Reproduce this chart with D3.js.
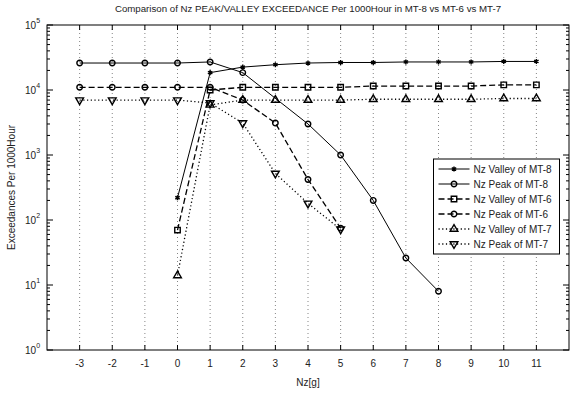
<!DOCTYPE html>
<html>
<head>
<meta charset="utf-8">
<script src="https://cdn.jsdelivr.net/npm/d3@7"></script>
<style>
  body { margin: 0; background: #fff; }
  text { font-family: "Liberation Sans", Arial, sans-serif; fill: #222; }
</style>
</head>
<body>
<div id="chart"></div>
<script>
// Nz[g] levels and exceedances per 1000 hours
var xTicks = [-3, -2, -1, 0, 1, 2, 3, 4, 5, 6, 7, 8, 9, 10, 11];
var yTicks = [1, 10, 100, 1000, 10000, 100000];

var nzValley8 = [0, 1, 2, 3, 4, 5, 6, 7, 8, 9, 10, 11];
var valley8   = [220, 18500, 22500, 24500, 26000, 26500, 26500, 27000, 27000, 27000, 27500, 27500];

var nzPeak8 = [-3, -2, -1, 0, 1, 2, 4, 5, 6, 7, 8];
var peak8   = [26000, 26000, 26000, 26000, 27000, 18500, 3000, 1000, 200, 26, 8];

var nzValley6 = [0, 1, 2, 3, 4, 5, 6, 7, 8, 9, 10, 11];
var valley6   = [70, 10000, 11000, 11000, 11000, 11000, 11500, 11500, 11500, 11500, 12000, 12000];

var nzPeak6 = [-3, -2, -1, 0, 1, 2, 3, 4, 5];
var peak6   = [11000, 11000, 11000, 11000, 11000, 7000, 3100, 420, 75];

var nzValley7 = [0, 1, 2, 3, 4, 5, 6, 7, 8, 9, 10, 11];
var valley7   = [14, 5900, 7000, 7000, 7000, 7000, 7200, 7200, 7200, 7200, 7400, 7400];

var nzPeak7 = [-3, -2, -1, 0, 1, 2, 3, 4, 5];
var peak7   = [7000, 7000, 7000, 7000, 6300, 3100, 520, 180, 72];

var series = [
  {name: 'Nz Valley of MT-8', nz: nzValley8, v: valley8, dash: null,      marker: 'star'},
  {name: 'Nz Peak of MT-8',   nz: nzPeak8,   v: peak8,   dash: null,      marker: 'circle'},
  {name: 'Nz Valley of MT-6', nz: nzValley6, v: valley6, dash: '6,3',     marker: 'square'},
  {name: 'Nz Peak of MT-6',   nz: nzPeak6,   v: peak6,   dash: '6,3',     marker: 'circle'},
  {name: 'Nz Valley of MT-7', nz: nzValley7, v: valley7, dash: '1.2,2.5', marker: 'tri'},
  {name: 'Nz Peak of MT-7',   nz: nzPeak7,   v: peak7,   dash: '1.2,2.5', marker: 'trid'}
];

var width = 577, height = 403;
var margin = {top: 25, right: 8, bottom: 53, left: 47};
var w = width - margin.left - margin.right,
    h = height - margin.top - margin.bottom;

var svg = d3.select('#chart').append('svg')
  .attr('width', width)
  .attr('height', height);

var g = svg.append('g').attr('transform', 'translate(' + margin.left + ',' + margin.top + ')');

var x = d3.scaleLinear().domain([-4, 12]).range([0, w]);
var y = d3.scaleLog().domain([1, 100000]).range([h, 0]);

// vertical dotted grid
g.selectAll('.grid').data(xTicks).enter().append('line')
  .attr('x1', d => x(d)).attr('x2', d => x(d))
  .attr('y1', 0).attr('y2', h)
  .attr('stroke', '#666').attr('stroke-width', 0.8)
  .attr('stroke-dasharray', '1,3');

// ticks, inward, on all four sides
xTicks.forEach(function(t) {
  g.append('line').attr('x1', x(t)).attr('x2', x(t)).attr('y1', h).attr('y2', h - 5).attr('stroke', '#000');
  g.append('line').attr('x1', x(t)).attr('x2', x(t)).attr('y1', 0).attr('y2', 5).attr('stroke', '#000');
  g.append('text').attr('x', x(t)).attr('y', h + 17)
    .attr('text-anchor', 'middle').attr('font-size', 10).text(t);
});

var minor = [];
for (var e = 0; e < 5; e++) for (var m = 2; m <= 9; m++) minor.push(m * Math.pow(10, e));

minor.forEach(function(t) {
  g.append('line').attr('x1', 0).attr('x2', 3).attr('y1', y(t)).attr('y2', y(t)).attr('stroke', '#000');
  g.append('line').attr('x1', w).attr('x2', w - 3).attr('y1', y(t)).attr('y2', y(t)).attr('stroke', '#000');
});
yTicks.forEach(function(t) {
  g.append('line').attr('x1', 0).attr('x2', 6).attr('y1', y(t)).attr('y2', y(t)).attr('stroke', '#000');
  g.append('line').attr('x1', w).attr('x2', w - 6).attr('y1', y(t)).attr('y2', y(t)).attr('stroke', '#000');
  var lab = g.append('text').attr('x', -22).attr('y', y(t) + 4)
    .attr('text-anchor', 'start').attr('font-size', 10).text('10');
  lab.append('tspan').attr('dy', -6).attr('font-size', 7).text(Math.round(Math.log10(t)));
});

// frame
g.append('rect').attr('width', w).attr('height', h)
  .attr('fill', 'none').attr('stroke', '#000').attr('stroke-width', 1);

function markerPath(kind) {
  if (kind === 'star') return d3.symbol(d3.symbolAsterisk, 18)();
  if (kind === 'circle') return d3.symbol(d3.symbolCircle, 24)();
  if (kind === 'square') return d3.symbol(d3.symbolSquare, 30)();
  return d3.symbol(d3.symbolTriangle, 26)();
}

var line = d3.line().x(d => x(d[0])).y(d => y(d[1]));

series.forEach(function(s) {
  var pts = s.nz.map((n, i) => [n, s.v[i]]);
  g.append('path').datum(pts)
    .attr('d', line)
    .attr('fill', 'none').attr('stroke', '#000')
    .attr('stroke-width', s.dash ? 1.3 : 1)
    .attr('stroke-dasharray', s.dash);
  g.selectAll(null).data(pts).enter().append('path')
    .attr('d', markerPath(s.marker))
    .attr('transform', d => 'translate(' + x(d[0]) + ',' + y(d[1]) + ')' + (s.marker === 'trid' ? ' rotate(180)' : ''))
    .attr('fill', 'none').attr('stroke', '#000').attr('stroke-width', 1.4);
});

// legend
var lg = g.append('g').attr('transform', 'translate(' + (x(8) - 5) + ',' + 134 + ')');
lg.append('rect').attr('width', 126).attr('height', 95)
  .attr('fill', '#fff').attr('stroke', '#000');
series.forEach(function(s, i) {
  var yy = 10 + i * 15;
  lg.append('line').attr('x1', 5).attr('x2', 36).attr('y1', yy).attr('y2', yy)
    .attr('stroke', '#000').attr('stroke-width', s.dash ? 1.3 : 1)
    .attr('stroke-dasharray', s.dash);
  lg.append('path').attr('d', markerPath(s.marker))
    .attr('transform', 'translate(20.5,' + yy + ')' + (s.marker === 'trid' ? ' rotate(180)' : ''))
    .attr('fill', 'none').attr('stroke', '#000').attr('stroke-width', 1.4);
  lg.append('text').attr('x', 40).attr('y', yy + 3.5).attr('font-size', 10).text(s.name);
});

// titles
svg.append('text').attr('x', margin.left + w / 2).attr('y', 12)
  .attr('text-anchor', 'middle').attr('font-size', 9.7)
  .text('Comparison of Nz PEAK/VALLEY EXCEEDANCE Per 1000Hour in MT-8 vs MT-6 vs MT-7');
svg.append('text').attr('x', margin.left + w / 2).attr('y', h + margin.top + 36)
  .attr('text-anchor', 'middle').attr('font-size', 10).text('Nz[g]');
svg.append('text').attr('transform', 'translate(15,' + (margin.top + h / 2) + ') rotate(-90)')
  .attr('text-anchor', 'middle').attr('font-size', 10).text('Exceedances Per 1000Hour');
</script>
</body>
</html>
